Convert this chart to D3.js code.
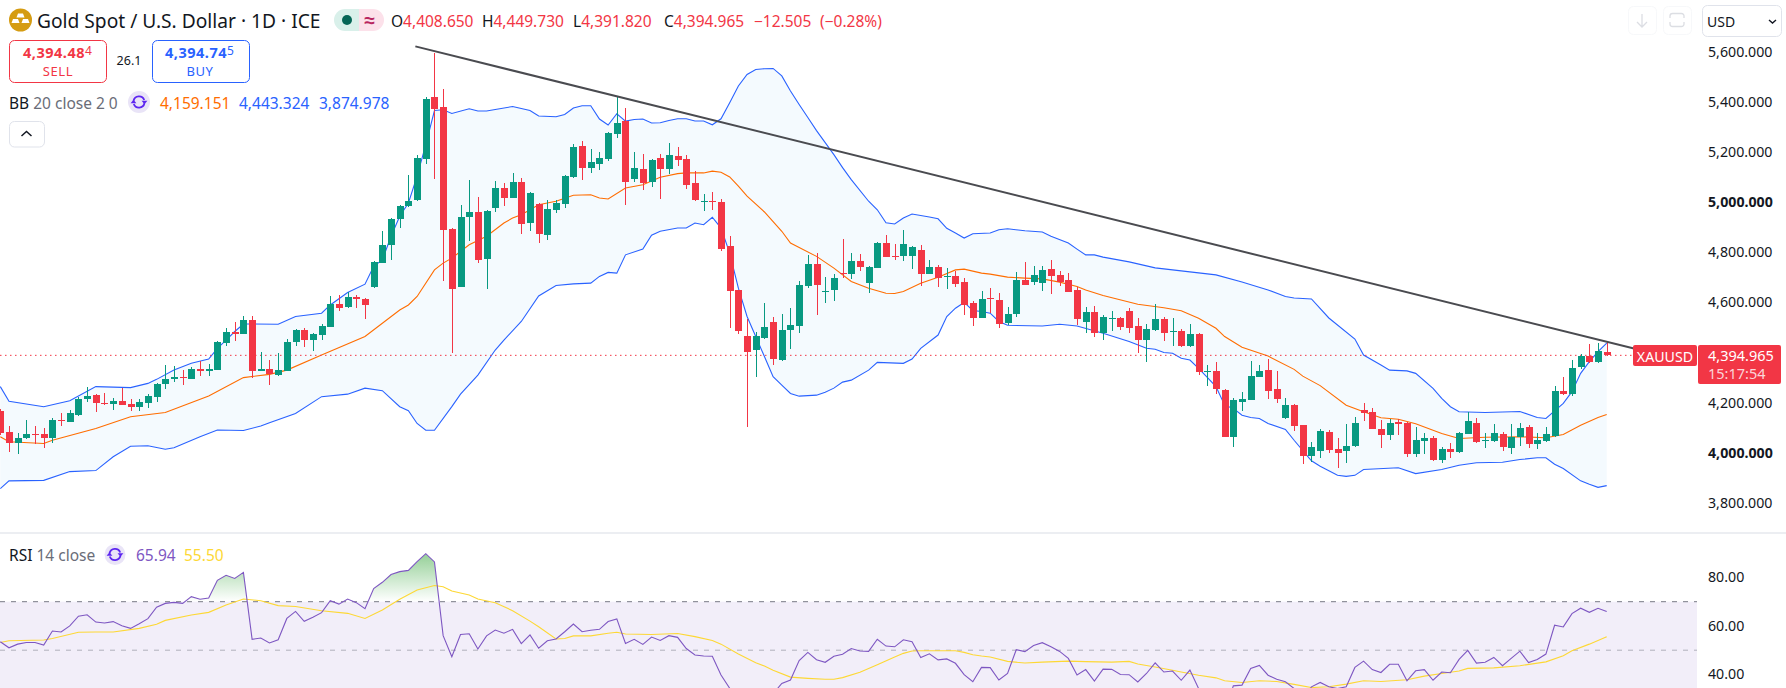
<!DOCTYPE html>
<html>
<head>
<meta charset="utf-8">
<script src="https://cdn.jsdelivr.net/npm/d3@7"></script>
<style>
  html, body { margin: 0; padding: 0; background: #fff; overflow: hidden; }
  svg { display: block; }
  text { font-family: "Noto Sans", sans-serif; }
</style>
</head>
<body>
<svg id="chart" width="1786" height="688"></svg>
<script>
// daily candles, bar 0 is the leftmost one
const opens = [4172,4088,4046,4064,4079,4080,4066,4136,4130,4157,4222,4235,4206,4202,4212,4200,4190,4206,4230,4280,4300,4308,4300,4339,4332,4336,4446,4487,4482,4536,4332,4339,4316,4334,4448,4496,4456,4476,4510,4600,4586,4628,4620,4668,4764,4834,4939,4990,5013,5180,5424,5388,4900,4668,4948,4968,4780,4984,5064,5024,5088,4924,5000,4876,4976,5000,5108,5232,5144,5160,5180,5280,5331,5100,5140,5088,5184,5140,5192,5180,5084,5010,5012,5008,4832,4656,4472,4416,4464,4528,4376,4496,4512,4672,4760,4648,4656,4724,4720,4772,4684,4744,4844,4792,4792,4792,4816,4720,4748,4706,4712,4688,4604,4544,4622,4616,4524,4560,4696,4688,4684,4740,4716,4696,4656,4528,4568,4484,4540,4544,4572,4512,4456,4496,4540,4488,4492,4432,4480,4328,4332,4256,4070,4208,4216,4308,4336,4260,4143,4196,4116,3994,4012,4088,4020,4012,4032,4176,4168,4100,4076,4128,4124,4000,4052,4064,3976,4020,4008,4080,4124,4054,4052,4080,4024,4068,4108,4040,4052,4072,4252,4240,4348,4392,4368,4408.65];
const closes = [4083,4046,4067,4080,4076,4064,4136,4134,4163,4220,4233,4206,4204,4212,4198,4190,4208,4233,4280,4299,4308,4304,4339,4332,4340,4448,4487,4479,4535,4334,4340,4319,4335,4448,4497,4458,4480,4512,4600,4584,4628,4618,4596,4768,4836,4940,4992,5012,5184,5420,5380,4896,4660,4948,4968,4776,4972,5064,5024,5088,4920,5044,4880,4980,5004,5112,5228,5144,5168,5184,5284,5324,5088,5144,5084,5176,5140,5196,5176,5076,5016,5012,5010,4820,4652,4492,4408,4472,4508,4380,4496,4516,4676,4760,4676,4652,4704,4720,4772,4748,4748,4844,4788,4788,4840,4828,4720,4748,4704,4712,4680,4596,4544,4620,4618,4520,4560,4696,4676,4716,4736,4712,4688,4648,4540,4568,4484,4548,4544,4508,4504,4456,4500,4540,4484,4492,4432,4480,4328,4332,4260,4068,4216,4220,4312,4332,4252,4220,4196,4112,3994,4028,4092,4016,4004,4032,4124,4164,4100,4076,4124,4120,4000,4056,4064,3976,4020,4008,4084,4132,4048,4058,4084,4028,4068,4104,4040,4056,4080,4252,4240,4344,4392,4368,4412,4394.965];
const highs = [4180,4112,4083,4136,4112,4104,4143,4163,4176,4227,4267,4241,4246,4223,4263,4220,4219,4241,4286,4356,4352,4336,4350,4374,4360,4452,4503,4528,4552,4552,4407,4376,4403,4462,4500,4503,4483,4520,4632,4636,4647,4636,4624,4770,4892,4943,4994,5116,5196,5425,5600,5456,4902,4996,5096,5028,4976,5092,5084,5124,5104,5048,5004,5016,5016,5113,5240,5252,5220,5208,5285,5424,5384,5208,5200,5180,5200,5244,5228,5196,5132,5040,5048,5020,4872,4657,4540,4488,4604,4548,4560,4584,4692,4796,4804,4708,4720,4860,4804,4800,4752,4848,4876,4840,4896,4832,4836,4776,4756,4744,4732,4704,4612,4652,4664,4644,4588,4728,4768,4752,4752,4776,4732,4724,4668,4588,4592,4556,4572,4548,4584,4544,4520,4600,4548,4544,4500,4520,4484,4356,4368,4260,4223,4248,4372,4356,4382,4332,4224,4200,4117,4048,4099,4096,4064,4120,4148,4204,4184,4136,4140,4140,4128,4108,4084,4072,4028,4044,4088,4168,4144,4084,4120,4088,4120,4124,4116,4084,4108,4272,4308,4376,4400,4440,4444,4449.73];
const lows = [4075,4010,4003,4060,4043,4026,4046,4112,4127,4153,4210,4170,4196,4176,4196,4174,4174,4186,4210,4262,4290,4278,4299,4314,4314,4335,4432,4452,4480,4303,4331,4278,4314,4333,4432,4428,4412,4456,4509,4572,4584,4584,4540,4665,4763,4776,4903,4987,5012,5160,5100,4690,4406,4667,4852,4764,4660,4968,4992,5023,4880,4892,4844,4856,4964,4984,5104,5096,5124,5136,5172,5264,4996,5088,5056,5068,5020,5120,5152,5060,5012,4972,4976,4812,4504,4480,4110,4308,4460,4356,4372,4420,4484,4664,4556,4604,4612,4704,4700,4732,4644,4743,4787,4776,4772,4740,4672,4719,4668,4660,4668,4556,4512,4543,4564,4504,4516,4548,4675,4676,4652,4640,4672,4647,4516,4484,4468,4456,4492,4496,4484,4404,4368,4492,4452,4432,4428,4428,4316,4272,4240,4068,4030,4172,4215,4307,4220,4204,4139,4092,3960,3968,3984,4004,3944,3964,4031,4132,4099,4024,4056,4076,3988,3988,4000,3972,3964,3984,4004,4079,4044,4024,4051,4012,4000,4032,4024,4020,4048,4068,4236,4232,4340,4364,4364,4391.82];

// bollinger bands as [bar, price], one pair per visible bend of the line
const bbUpper = [[0,4270],[1,4212],[5,4190],[8,4214],[11,4270],[15,4266],[17,4283],[18,4299],[20,4336],[22,4363],[24,4380],[25,4423],[26,4456],[27,4490],[28,4520],[29,4520],[32,4519],[34,4550],[37,4563],[38,4596],[40,4646],[42,4679],[43,4750],[44,4776],[45,4870],[46,4950],[47,5003],[48,5110],[49,5236],[50,5372],[51,5375],[52,5360],[54,5379],[55,5370],[56,5370],[57,5376],[59,5388],[61,5372],[62,5350],[64,5347],[65,5356],[66,5382],[67,5391],[68,5391],[69,5338],[70,5314],[71,5359],[72,5330],[73,5336],[74,5338],[75,5322],[76,5323],[77,5332],[78,5339],[79,5339],[80,5330],[81,5330],[82,5315],[83,5339],[84,5403],[85,5470],[86,5516],[87,5536],[88,5539],[89,5540],[90,5510],[91,5450],[92,5396],[93,5344],[94,5292],[95,5244],[96,5196],[97,5144],[98,5096],[100,5010],[101,4976],[102,4924],[103,4919],[104,4943],[105,4959],[107,4947],[108,4940],[109,4902],[110,4883],[111,4863],[112,4880],[114,4883],[115,4896],[116,4900],[118,4892],[120,4887],[121,4870],[123,4843],[124,4819],[125,4796],[126,4796],[127,4787],[130,4768],[133,4744],[137,4728],[140,4716],[143,4688],[146,4656],[148,4630],[149,4624],[151,4620],[153,4544],[156,4460],[157,4396],[159,4356],[160,4336],[162,4333],[163,4323],[165,4263],[166,4223],[167,4190],[168,4170],[171,4167],[175,4171],[177,4147],[178,4143],[180,4203],[181,4250],[182,4323],[183,4370],[184,4410],[185,4443.324]];
const bbBasis = [[0,4070],[1,4050],[5,4043],[6,4056],[11,4103],[15,4150],[19,4167],[24,4233],[28,4306],[31,4319],[33,4336],[37,4396],[42,4470],[46,4576],[47,4596],[48,4630],[50,4736],[51,4763],[52,4783],[54,4836],[56,4870],[58,4923],[59,4943],[60,4956],[62,4996],[64,5010],[66,5034],[68,5036],[69,5023],[70,5019],[72,5063],[74,5076],[76,5106],[78,5120],[79,5123],[81,5123],[82,5130],[83,5126],[84,5107],[85,5070],[86,5030],[88,4967],[90,4890],[91,4843],[94,4790],[96,4743],[98,4690],[100,4663],[102,4643],[103,4642],[104,4650],[106,4683],[108,4707],[110,4736],[111,4739],[113,4723],[114,4719],[116,4707],[118,4703],[120,4700],[122,4687],[124,4670],[125,4656],[127,4634],[131,4599],[134,4585],[136,4573],[138,4543],[140,4503],[141,4470],[143,4427],[146,4392],[149,4339],[150,4312],[152,4274],[155,4196],[157,4170],[159,4146],[161,4140],[163,4122],[166,4083],[168,4063],[171,4068],[175,4070],[178,4066],[180,4079],[182,4116],[184,4147],[185,4159.151]];
const bbLower = [[0,3863],[1,3894],[5,3896],[8,3931],[11,3935],[13,3990],[15,4032],[17,4034],[19,4020],[20,4026],[23,4070],[25,4097],[28,4095],[30,4113],[31,4126],[34,4163],[37,4230],[40,4240],[42,4264],[44,4254],[46,4190],[47,4174],[48,4123],[49,4096],[50,4096],[52,4190],[53,4240],[55,4316],[57,4416],[58,4456],[60,4530],[62,4632],[64,4674],[66,4680],[68,4683],[69,4710],[70,4726],[71,4723],[72,4796],[74,4819],[75,4874],[76,4890],[78,4903],[79,4903],[80,4923],[81,4916],[82,4946],[83,4903],[84,4803],[85,4663],[86,4550],[87,4470],[88,4390],[89,4310],[90,4276],[91,4243],[92,4232],[94,4236],[95,4248],[96,4264],[97,4288],[98,4296],[100,4336],[101,4367],[104,4363],[105,4380],[106,4423],[108,4476],[109,4550],[110,4583],[111,4606],[112,4574],[113,4570],[114,4563],[115,4530],[116,4515],[120,4512],[122,4519],[124,4512],[127,4483],[130,4450],[132,4423],[133,4419],[134,4406],[135,4403],[136,4383],[137,4376],[138,4343],[139,4307],[140,4270],[141,4196],[142,4183],[143,4156],[144,4147],[145,4143],[146,4123],[148,4099],[149,4056],[151,3974],[152,3952],[154,3916],[155,3912],[156,3916],[157,3939],[161,3946],[163,3923],[166,3939],[168,3956],[170,3966],[173,3968],[175,3979],[177,3986],[178,3986],[179,3960],[180,3943],[182,3894],[183,3880],[184,3868],[185,3874.978]];

// rsi per bar, below about 31 the line runs out of the photographed area
const rsiValues = [53.5,51,52.5,53.2,53.2,52.1,57.9,57.5,60,64,64.6,61.6,61.2,61.8,60.1,59,60.9,63,67.7,69.3,69.7,69.3,72.1,71,71.5,78.8,80.9,79.6,82.1,54.5,55,53,54.3,63.1,66,61.9,63.6,65.5,70.4,69,71.1,69.6,67.1,75.4,78,81.2,82.4,82.9,86.5,89.8,86.4,56,47.3,56.5,56.8,50.5,55.9,58.3,57,58.6,52.7,56.3,50.8,53.9,54.6,57.6,60.8,57.6,58.2,58.6,61.8,62.9,52.8,54.5,52.4,55.4,54,56,55.3,50.7,48,47.6,47.5,39.8,34.3,30,28,29,31,32,36.3,37.7,45.7,49.1,46.1,45,47.5,48.3,50.7,49.7,49.5,54.5,51.7,51.4,54.3,53.5,47,48.5,46,46.4,44.6,39.9,37,42.9,42.8,37.7,40.4,50.2,49.4,51.9,53.1,51.4,49.5,46.6,39.8,42,37.3,42.2,42.1,40,39.9,36.9,40.4,44.8,41,41.4,37.6,41.8,34.2,31,27,24,35.3,35.6,42.5,43.7,39.7,38,37,34.2,29,34.9,36.7,34.9,34.2,34.9,42.9,45.5,42,40.8,44.2,44.2,37.4,41.5,42,37.6,41,40.7,46.2,49.9,44.7,45,47,43.6,46.6,49.6,44.9,46.2,48.4,60.3,59.6,65.1,67.3,65.6,67.3,65.94];
const rsiMa = [[0,53.2],[1,53.9],[5,54.2],[6,54.8],[9,57.4],[11,57.5],[13,57.5],[16,59],[18,60.7],[19,62.3],[22,64.5],[24,65.6],[26,68.6],[28,71.1],[30,70.4],[32,68.4],[34,68],[37,66.3],[40,65.2],[42,63.1],[44,66.6],[46,71],[48,74.8],[50,76.7],[51,76.2],[52,74.4],[54,72.8],[55,71.1],[57,69.6],[59,66.3],[61,62],[62,59.7],[64,54.6],[65,54.8],[66,55.9],[68,55.9],[70,57],[71,57.4],[72,56.7],[75,56.5],[78,56.9],[80,55.6],[82,54],[83,52.5],[85,48.4],[87,44.8],[88,43.5],[89,41.7],[91,38.9],[93,38.4],[95,38],[96,38],[97,38.7],[99,40.9],[101,44],[103,47.2],[104,48.7],[105,49.7],[106,49.8],[110,49.8],[111,49.1],[112,48.1],[113,47.6],[114,47.2],[116,45.4],[118,44.7],[120,45.1],[123,45.5],[125,45.3],[128,45.1],[130,45.4],[131,44.3],[133,43.1],[135,41.7],[136,41],[138,39.7],[140,38.6],[141,37.4],[143,36.7],[145,37.4],[147,37.1],[149,35.9],[151,34.6],[153,34.9],[155,36],[157,37.4],[159,37.1],[162,37.8],[164,39.3],[166,40.4],[168,41.4],[169,42.5],[172,42.7],[175,43.6],[178,45.2],[180,47.7],[181,49.8],[183,52.5],[185,55.5]];

const trendLine = [[47.8,5628],[190,4406]];
const lastPrice = 4394.965;
const priceTicks = [5600,5400,5200,5000,4800,4600,4200,4000,3800];
const boldTicks = [5000,4000];
const rsiTicks = [80,60,40];
const ohlcLabels = [
  {k:"O", v:"4,408.650", x:391},
  {k:"H", v:"4,449.730", x:482},
  {k:"L", v:"4,391.820", x:573},
  {k:"C", v:"4,394.965", x:664}
];

const RED = "#f23645", GREEN = "#089981", BLUE = "#2962ff", ORANGE = "#ff6d00",
  PURPLE = "#7e57c2", YELLOW = "#fdd835", INK = "#131722", GREY = "#6a6d78", LINE = "#e0e3eb";

const svg = d3.select("#chart");
const paneRight = 1697;

const x = d3.scaleLinear().domain([0, 185]).range([0.3, 1606.7]);
const y = d3.scaleLinear().domain([3800, 5600]).range([504.4, 53.4]);
const yRsi = d3.scaleLinear().domain([30, 90]).range([698.7, 553.2]);

const defs = svg.append("defs");
defs.append("clipPath").attr("id", "price-clip").append("rect")
  .attr("x", 0).attr("y", 0).attr("width", paneRight).attr("height", 532);
defs.append("clipPath").attr("id", "rsi-clip").append("rect")
  .attr("x", 0).attr("y", 534).attr("width", paneRight).attr("height", 160);
defs.append("clipPath").attr("id", "above70").append("rect")
  .attr("x", 0).attr("y", 534).attr("width", paneRight).attr("height", yRsi(70) - 534);
const grad = defs.append("linearGradient").attr("id", "rsi-green")
  .attr("gradientUnits", "userSpaceOnUse")
  .attr("x1", 0).attr("x2", 0).attr("y1", yRsi(90)).attr("y2", yRsi(70));
grad.append("stop").attr("offset", 0).attr("stop-color", "#4caf50").attr("stop-opacity", 0.6);
grad.append("stop").attr("offset", 1).attr("stop-color", "#4caf50").attr("stop-opacity", 0);

const priceLine = d3.line().x(d => x(d[0])).y(d => y(d[1]));
const rsiLine = d3.line().x(d => x(d[0])).y(d => yRsi(d[1]));

// price pane
const pricePane = svg.append("g").attr("clip-path", "url(#price-clip)");

pricePane.append("path")
  .attr("d", priceLine(bbUpper.concat(bbLower.slice().reverse())) + "Z")
  .attr("fill", "#2196f3").attr("fill-opacity", 0.05);

pricePane.selectAll("path.bb").data([[bbUpper, BLUE], [bbLower, BLUE], [bbBasis, ORANGE]]).enter()
  .append("path").attr("class", "bb")
  .attr("d", d => priceLine(d[0]))
  .attr("fill", "none").attr("stroke", d => d[1]).attr("stroke-width", 1.1);

pricePane.append("line")
  .attr("x1", 0).attr("x2", 1633)
  .attr("y1", y(lastPrice)).attr("y2", y(lastPrice))
  .attr("stroke", RED).attr("stroke-dasharray", "1.5 3.5");

const bars = pricePane.selectAll("g.bar").data(d3.range(opens.length)).enter()
  .append("g").attr("class", "bar")
  .attr("fill", i => closes[i] >= opens[i] ? GREEN : RED)
  .attr("shape-rendering", "crispEdges");
bars.append("rect")
  .attr("x", i => Math.round(x(i)))
  .attr("width", 1)
  .attr("y", i => y(highs[i]))
  .attr("height", i => y(lows[i]) - y(highs[i]));
bars.append("rect")
  .attr("x", i => Math.round(x(i)) - 3)
  .attr("width", 7)
  .attr("y", i => y(Math.max(opens[i], closes[i])))
  .attr("height", i => Math.max(1, Math.abs(y(opens[i]) - y(closes[i]))));

pricePane.append("path")
  .attr("d", priceLine(trendLine))
  .attr("fill", "none").attr("stroke", "#4a4b50").attr("stroke-width", 2);

// price axis
const priceAxis = svg.append("g").attr("transform", "translate(1708,0)")
  .call(d3.axisRight(y).tickValues(priceTicks).tickSize(0).tickPadding(0)
    .tickFormat(d3.format(",.3f")));
priceAxis.select(".domain").remove();
priceAxis.selectAll("text")
  .attr("dy", "0.32em")
  .attr("y", -1.7)
  .style("font-family", '"Noto Sans", sans-serif')
  .style("font-size", "14.2px")
  .style("font-weight", d => boldTicks.includes(d) ? 700 : 400)
  .attr("fill", INK);

// pane separator
svg.append("rect").attr("x", 0).attr("y", 532).attr("width", 1786).attr("height", 2).attr("fill", "#eceef2");

// rsi pane
const rsiPane = svg.append("g").attr("clip-path", "url(#rsi-clip)");
rsiPane.append("rect")
  .attr("x", 0).attr("width", paneRight)
  .attr("y", yRsi(70)).attr("height", yRsi(30) - yRsi(70))
  .attr("fill", PURPLE).attr("fill-opacity", 0.1);
const rsiPoints = rsiValues.map((v, i) => [i, v]);
rsiPane.append("path")
  .attr("clip-path", "url(#above70)")
  .attr("d", d3.area().x(d => x(d[0])).y0(yRsi(70)).y1(d => yRsi(d[1]))(rsiPoints))
  .attr("fill", "url(#rsi-green)");
rsiPane.selectAll("line.lvl").data([[70, 1], [50, 0.55]]).enter()
  .append("line").attr("class", "lvl")
  .attr("x1", 0).attr("x2", paneRight)
  .attr("y1", d => yRsi(d[0])).attr("y2", d => yRsi(d[0]))
  .attr("stroke", "#787b86").attr("stroke-opacity", d => d[1])
  .attr("stroke-dasharray", "5 6");
rsiPane.append("path").attr("d", rsiLine(rsiMa))
  .attr("fill", "none").attr("stroke", YELLOW).attr("stroke-width", 1.1);
rsiPane.append("path").attr("d", rsiLine(rsiPoints))
  .attr("fill", "none").attr("stroke", PURPLE).attr("stroke-width", 1.1);

const rsiAxis = svg.append("g").attr("transform", "translate(1708,0)")
  .call(d3.axisRight(yRsi).tickValues(rsiTicks).tickSize(0).tickPadding(0)
    .tickFormat(d3.format(".2f")));
rsiAxis.select(".domain").remove();
rsiAxis.selectAll("text")
  .attr("dy", "0.32em")
  .style("font-family", '"Noto Sans", sans-serif')
  .style("font-size", "14.2px")
  .attr("fill", INK);

// small helpers for the legend furniture
function label(str, px, py, opts) {
  const o = opts || {};
  return svg.append("text")
    .attr("x", px).attr("y", py)
    .attr("font-size", o.size || 14)
    .attr("font-weight", o.weight || 400)
    .attr("letter-spacing", o.spacing || 0)
    .attr("text-anchor", o.anchor || "start")
    .attr("dominant-baseline", "central")
    .attr("fill", o.fill || INK)
    .text(str);
}
function box(bx, by, w, h, stroke, fill) {
  return svg.append("rect")
    .attr("x", bx + 0.5).attr("y", by + 0.5)
    .attr("width", w).attr("height", h).attr("rx", 5)
    .attr("fill", fill || "#fff").attr("stroke", stroke);
}
function refreshIcon(cx, cy, r) {
  svg.append("circle").attr("cx", cx).attr("cy", cy).attr("r", r).attr("fill", "#e9e4f7");
  const g = svg.append("g").attr("transform", `translate(${cx},${cy})`)
    .attr("fill", "none").attr("stroke", "#5d26f0").attr("stroke-width", 1.8);
  const arc = d3.arc().innerRadius(5.6).outerRadius(5.6);
  g.append("path").attr("d", arc({startAngle: -1.35, endAngle: 1.2}));
  g.append("path").attr("d", arc({startAngle: 1.8, endAngle: 4.35}));
  g.append("path").attr("fill", "#5d26f0").attr("stroke", "none").attr("d", "M2.6,-1.2L8.4,-1.2L5.5,2.2Z");
  g.append("path").attr("fill", "#5d26f0").attr("stroke", "none").attr("d", "M-2.6,1.2L-8.4,1.2L-5.5,-2.2Z");
}

// header
svg.append("circle").attr("cx", 20.5).attr("cy", 20).attr("r", 11.5).attr("fill", "#d59c12");
svg.append("path").attr("fill", "#fff")
  .attr("d", "M18,13.5h5l1.5,4h-8ZM13,19h5l1.5,4h-8ZM23,19h5l1.5,4h-8Z");
label("Gold Spot / U.S. Dollar · 1D · ICE", 37, 20.5, {size: 19.2});

svg.append("path").attr("fill", "#d9f0ea")
  .attr("d", "M359,9H345a11,11 0 0 0 0,22H359Z");
svg.append("path").attr("fill", "#fce1ea")
  .attr("d", "M359,9H373a11,11 0 0 1 0,22H359Z");
svg.append("circle").attr("cx", 347).attr("cy", 20).attr("r", 5).attr("fill", "#056656");
label("≈", 369.5, 20, {size: 19, anchor: "middle", fill: "#b8255f", weight: 700});

ohlcLabels.forEach(d => {
  const t = label(d.k, d.x, 20.5, {size: 15.5});
  t.append("tspan").attr("fill", RED).text(d.v);
});
label("−12.505", 754, 20.5, {size: 15.5, fill: RED});
label("(−0.28%)", 820, 20.5, {size: 15.5, fill: RED});

// sell / buy boxes
box(9, 40, 97, 42, RED);
label("4,394.48", 23, 51.5, {size: 14.5, weight: 700, fill: RED, spacing: 0.5}).append("tspan")
  .attr("font-size", 12).attr("font-weight", 400).attr("dy", -2).text("4");
label("SELL", 58, 71, {size: 13, fill: RED, anchor: "middle", spacing: 0.6});
label("26.1", 129, 60.5, {size: 12.5, anchor: "middle"});
box(152, 40, 97, 42, BLUE);
label("4,394.74", 165, 51.5, {size: 14.5, weight: 700, fill: BLUE, spacing: 0.5}).append("tspan")
  .attr("font-size", 12).attr("font-weight", 400).attr("dy", -2).text("5");
label("BUY", 200, 71, {size: 13, fill: BLUE, anchor: "middle", spacing: 0.6});

// bb legend
label("BB", 9, 102.5, {size: 15.5}).append("tspan").attr("fill", GREY).text(" 20 close 2 0");
refreshIcon(139, 102, 11);
label("4,159.151", 160, 102.5, {size: 15.5, fill: ORANGE});
label("4,443.324", 239, 102.5, {size: 15.5, fill: BLUE});
label("3,874.978", 319, 102.5, {size: 15.5, fill: BLUE});

box(9, 121, 35, 25.5, LINE);
svg.append("path").attr("d", "M21.5,136L26.5,131.5L31.5,136")
  .attr("fill", "none").attr("stroke", INK).attr("stroke-width", 1.5);

// rsi legend
label("RSI", 9, 554.5, {size: 15.5}).append("tspan").attr("fill", GREY).text(" 14 close");
refreshIcon(115, 554.5, 10.5);
label("65.94", 136, 554.5, {size: 15.5, fill: PURPLE});
label("55.50", 184, 554.5, {size: 15.5, fill: YELLOW});

// top right controls
box(1628, 6, 28, 28, "#f7f8fa");
svg.append("path").attr("d", "M1642,14V27M1637,22L1642,27L1647,22")
  .attr("fill", "none").attr("stroke", "#dcdee3").attr("stroke-width", 1.3);
box(1663, 6, 28, 28, "#f7f8fa");
svg.append("path").attr("d", "M1670,18V16a2.5,2.5 0 0 1 2.5,-2.5H1681.5a2.5,2.5 0 0 1 2.5,2.5V18M1670,22V24a2.5,2.5 0 0 0 2.5,2.5H1681.5a2.5,2.5 0 0 0 2.5,-2.5V22")
  .attr("fill", "none").attr("stroke", "#dcdee3").attr("stroke-width", 1.3);
box(1702, 5, 79, 31, LINE);
label("USD", 1707, 21, {size: 14});
svg.append("path").attr("d", "M1769,20L1772.5,23L1776,20")
  .attr("fill", "none").attr("stroke", INK).attr("stroke-width", 1.4);

// last price tag
svg.append("rect").attr("x", 1633).attr("y", 345).attr("width", 64).attr("height", 21).attr("rx", 2).attr("fill", RED);
label("XAUUSD", 1665, 356, {size: 14.2, fill: "#fff", anchor: "middle"});
svg.append("rect").attr("x", 1698).attr("y", 345).attr("width", 83).attr("height", 39).attr("rx", 2).attr("fill", RED);
label("4,394.965", 1708, 355, {size: 14.5, fill: "#fff"});
label("15:17:54", 1708, 373, {size: 14.5, fill: "#fbd5d9"});
</script>
</body>
</html>
